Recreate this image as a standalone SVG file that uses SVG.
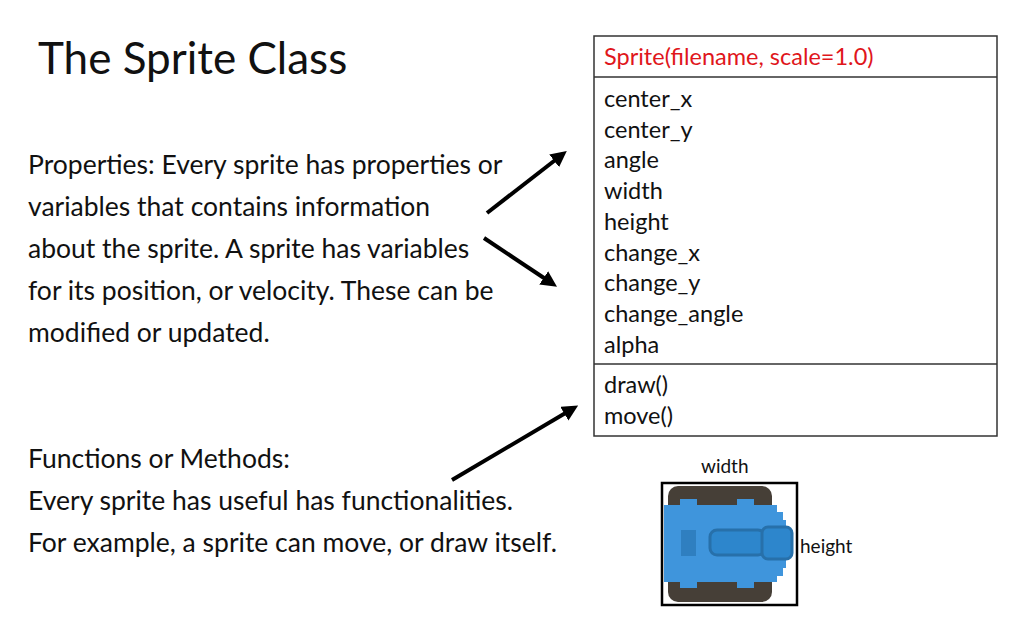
<svg xmlns="http://www.w3.org/2000/svg" width="1024" height="640" viewBox="0 0 1024 640">
<style>
text{font-family:Lato,"Open Sans",sans-serif;fill:#111}
.b{font-size:26.5px}
.m{font-size:23.5px}
.box{fill:#fff;stroke:#333;stroke-width:1.5}
.arr{stroke:#000;stroke-width:4;fill:none;marker-end:url(#ah)}
</style>
<defs><marker id="ah" viewBox="0 0 10 10" refX="7" refY="5" markerWidth="4" markerHeight="4" orient="auto"><path d="M0,0L10,5L0,10z" fill="#000"/></marker></defs>
<rect width="1024" height="640" fill="#fff"/>
<text x="38" y="74" style="font-size:44px">The Sprite Class</text>
<g id="props" class="b">
<text x="28" y="174">Properties: Every sprite has properties or</text>
<text x="28" y="216">variables that contains information</text>
<text x="28" y="258">about the sprite. A sprite has variables</text>
<text x="28" y="300">for its position, or velocity. These can be</text>
<text x="28" y="342">modified or updated.</text>
</g>
<g id="funcs" class="b">
<text x="28" y="468">Functions or Methods:</text>
<text x="28" y="510">Every sprite has useful has functionalities.</text>
<text x="28" y="552">For example, a sprite can move, or draw itself.</text>
</g>
<g id="class">
<rect class="box" x="594" y="36" width="403" height="400"/>
<line x1="594" y1="77" x2="997" y2="77" stroke="#333" stroke-width="1.5"/>
<line x1="594" y1="364" x2="997" y2="364" stroke="#333" stroke-width="1.5"/>
<text x="604" y="65" class="m" style="fill:#e0161b">Sprite(filename, scale=1.0)</text>
<g class="m">
<text x="604" y="107">center_x</text>
<text x="604" y="138">center_y</text>
<text x="604" y="168">angle</text>
<text x="604" y="199">width</text>
<text x="604" y="230">height</text>
<text x="604" y="261">change_x</text>
<text x="604" y="291">change_y</text>
<text x="604" y="322">change_angle</text>
<text x="604" y="353">alpha</text>
<text x="604" y="393">draw()</text>
<text x="604" y="424">move()</text>
</g>
</g>
<g id="tank">
<rect x="668" y="486" width="104" height="116" rx="10" fill="#463f37"/>
<path d="M664,505H680V499H697V505H737V499H754V505H777V512H783V520H786V568H783V576H777V582H754V588H737V582H697V588H680V582H664Z" fill="#3f95dc"/>
<rect x="681" y="530" width="15" height="26" fill="#2f7fc0"/>
<rect x="710" y="530" width="55" height="25" rx="7" fill="#2d86cc" stroke="#2770aa" stroke-width="3"/>
<rect x="762" y="527" width="30" height="32" rx="6" fill="#2d86cc" stroke="#2770aa" stroke-width="3"/>
<rect x="662" y="483" width="135" height="122" fill="none" stroke="#000" stroke-width="2.5"/>
<text x="701" y="473" style="font-size:19px">width</text>
<text x="800" y="553" style="font-size:19px">height</text>
</g>
<g id="connectors">
<line class="arr" x1="487" y1="213" x2="563" y2="154"/>
<line class="arr" x1="484" y1="238" x2="553" y2="284"/>
<line class="arr" x1="452" y1="480" x2="574" y2="408"/>
</g>
</svg>
